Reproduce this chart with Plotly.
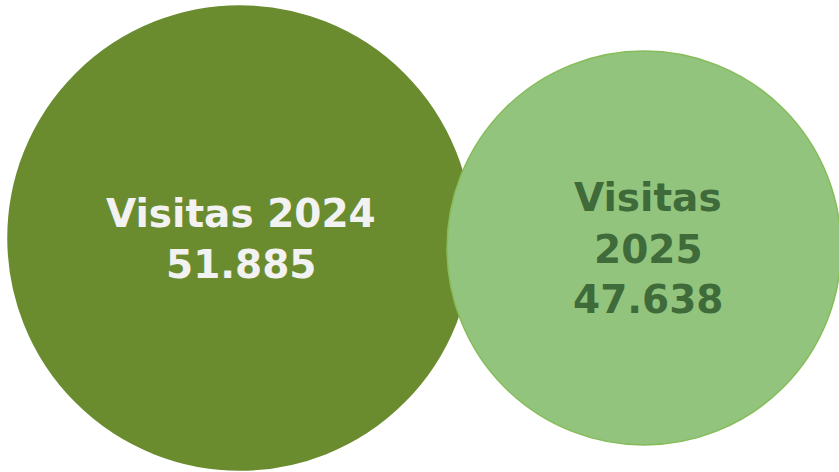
import plotly.graph_objects as go

# Data
labels = ["Visitas 2024", "Visitas 2025"]
years = ["2024", "2025"]
visits = [51885, 47638]

# Layout geometry (pixels) for each bubble
centers = [(240, 238), (644, 248)]
radii = [232, 197]
fills = ["#6a8c2f", "#93c47d"]
borders = ["#6a8c2f", "#86bd5a"]
text_colors = ["#f2f2f2", "#3f6a3a"]

W, H = 839, 472


def fmt(v):
    return f"{v:,}".replace(",", ".")


# Text lines inside each bubble
line_sets = [
    [labels[0], fmt(visits[0])],
    ["Visitas", years[1], fmt(visits[1])],
]
line_centers = [
    [213, 264],
    [197, 249, 299],
]
text_x = [241, 648]

fig = go.Figure()
fig.add_trace(go.Scatter(x=[0, W], y=[0, H], mode="markers",
                         marker=dict(opacity=0), hoverinfo="skip",
                         showlegend=False))

for (cx, cy), r, fc, bc in zip(centers, radii, fills, borders):
    fig.add_shape(type="circle", xref="x", yref="y",
                  x0=cx - r, x1=cx + r, y0=cy - r, y1=cy + r,
                  fillcolor=fc, line=dict(color=bc, width=1.5), layer="above")

for i, (lines, ys) in enumerate(zip(line_sets, line_centers)):
    for txt, y in zip(lines, ys):
        fig.add_annotation(x=text_x[i], y=y, text=f"<b>{txt}</b>",
                           showarrow=False, xanchor="center", yanchor="middle",
                           font=dict(family="DejaVu Sans", size=39,
                                     color=text_colors[i]))

fig.update_layout(
    width=W, height=H,
    margin=dict(l=0, r=0, t=0, b=0),
    paper_bgcolor="white", plot_bgcolor="white",
    xaxis=dict(range=[0, W], visible=False, fixedrange=True),
    yaxis=dict(range=[H, 0], visible=False, fixedrange=True),
    showlegend=False,
)

fig.write_html("out.html")
